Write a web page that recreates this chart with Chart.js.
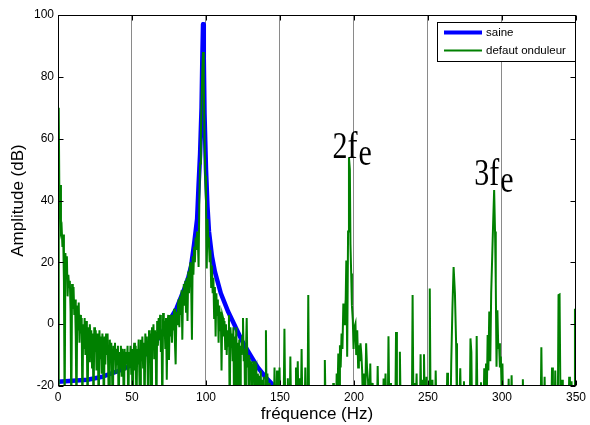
<!DOCTYPE html>
<html>
<head>
<meta charset="utf-8">
<script src="https://cdn.jsdelivr.net/npm/chart.js"></script>
<style>
  html, body { margin: 0; padding: 0; background: #fff; }
  canvas { display: block; }
</style>
</head>
<body>
<canvas id="spectrum" width="590" height="425"></canvas>
<script>
const xTicks = [0, 50, 100, 150, 200, 250, 300, 350];
const yTicks = [-20, 0, 20, 40, 60, 80, 100];
const seriesNames = ['saine', 'defaut onduleur'];

// healthy machine: single resonance around the supply frequency
const saineHz = [0, 10, 20, 30, 40, 50, 60, 65, 70, 75, 80, 85, 88, 90, 92, 94, 95, 96, 97, 97.5,
  98, 98.5, 99, 100, 101, 102, 104, 106, 110, 115, 120, 125, 130, 135, 140, 146, 150];
const saineDb = [-18.6, -18.3, -18, -17, -15.3, -13.2, -9.5, -6.5, -3, 1, 5, 11, 15, 19, 26, 34, 45, 55, 70, 85,
  97, 86, 68, 50, 38, 30, 22, 17, 10, 4, -1, -6, -10, -14, -17, -20, -22];

// inverter fault spectrum, 0-145 Hz (-30 = below the axis)
const denseHz = [
  0, 0.5, 1, 1.5, 2, 2.5, 3, 3.5, 4, 4.5,
  5, 5.5, 6, 6.5, 7, 7.5, 8, 8.5, 9, 9.5,
  10, 10.5, 11, 11.5, 12, 12.5, 13, 13.5, 14, 14.5,
  15, 15.5, 16, 16.5, 17, 17.5, 18, 18.5, 19, 19.5,
  20, 20.5, 21, 21.5, 22, 22.5, 23, 23.5, 24, 24.5,
  25, 25.5, 26, 26.5, 27, 27.5, 28, 28.5, 29, 29.5,
  30, 30.5, 31, 31.5, 32, 32.5, 33, 33.5, 34, 34.5,
  35, 35.5, 36, 36.5, 37, 37.5, 38, 38.5, 39, 39.5,
  40, 40.5, 41, 41.5, 42, 42.5, 43, 43.5, 44, 44.5,
  45, 45.5, 46, 46.5, 47, 47.5, 48, 48.5, 49, 49.5,
  50, 50.5, 51, 51.5, 52, 52.5, 53, 53.5, 54, 54.5,
  55, 55.5, 56, 56.5, 57, 57.5, 58, 58.5, 59, 59.5,
  60, 60.5, 61, 61.5, 62, 62.5, 63, 63.5, 64, 64.5,
  65, 65.5, 66, 66.5, 67, 67.5, 68, 68.5, 69, 69.5,
  70, 70.5, 71, 71.5, 72, 72.5, 73, 73.5, 74, 74.5,
  75, 75.5, 76, 76.5, 77, 77.5, 78, 78.5, 79, 79.5,
  80, 80.5, 81, 81.5, 82, 82.5, 83, 83.5, 84, 84.5,
  85, 85.5, 86, 86.5, 87, 87.5, 88, 88.5, 89, 89.5,
  90, 90.5, 91, 91.5, 92, 92.5, 93, 93.5, 94, 94.5,
  95, 95.5, 96, 96.5, 97, 97.5, 98, 98.5, 99, 99.5,
  100, 100.5, 101, 101.5, 102, 102.5, 103, 103.5, 104, 104.5,
  105, 105.5, 106, 106.5, 107, 107.5, 108, 108.5, 109, 109.5,
  110, 110.5, 111, 111.5, 112, 112.5, 113, 113.5, 114, 114.5,
  115, 115.5, 116, 116.5, 117, 117.5, 118, 118.5, 119, 119.5,
  120, 120.5, 121, 121.5, 122, 122.5, 123, 123.5, 124, 124.5,
  125, 125.5, 126, 126.5, 127, 127.5, 128, 128.5, 129, 129.5,
  130, 130.5, 131, 131.5, 132, 132.5, 133, 133.5, 134, 134.5,
  135, 135.5, 136, 136.5, 137, 137.5, 138, 138.5, 139, 139.5,
  140, 140.5, 141, 141.5, 142, 142.5, 143, 143.5, 144, 144.5
];
const denseDb = [
  -30, 70, 36, 45, 30, 31, 25, 29, 14, -30,
  23, 17, 22, 9, 16, 12, 14, 4, -30, 13,
  5, 12, 3, 8, -4, -30, 6, -2, 7, -6,
  3, -3, 2, -30, 0, -8, 2, -10, 1, -5,
  -30, -1, -12, 0, -6, -2, -14, -3, -30, -1,
  -9, -2, -15, -3, -8, -30, -2, -11, -4, -16,
  -3, -9, -30, -4, -13, -3, -10, -3, -17, -30,
  -5, -12, -6, -15, -30, -7, -11, -6, -16, -8,
  -13, -7, -30, -9, -14, -7, -17, -8, -12, -30,
  -8, -15, -9, -13, -7, -30, -9, -14, -7, -16,
  -8, -30, -10, -6, -15, -7, -30, -8, -13, -5,
  -17, -30, -5, -12, -4, -14, -6, -30, -3, -10,
  -4, -13, -30, -2, -9, -3, -30, -1, -8, 0,
  -11, -2, -6, -30, 1, -7, 2, -5, 3, -9,
  -2, -30, 3.6, -4, 1, -8, 2, -18, 0, 3,
  -11.6, 2, -4, 3, -6, 3, -2, 5, -6, -13,
  4, 0, 6, 8, -1, 9, 3, 11, -5, 10,
  13, 6, 14, 4, 15, 1, 17, 10, 18, 20,
  12, -5, 22, 16, 25, 20, 28, 24, 30, 27,
  18.5, 40, 52, 60, 72, 82, 88, 78, 62, 48,
  40, 18, 34, 28, 26, 20, 24, 12, 19, 10,
  15, 2, 12, -4, 10, 3, 8, -6, 6, -2,
  4, -15, 3, 2, -4, 1, -8, 0, -10, -2,
  -7, 3, -30, -1, -6, -3, -12, -1, -30, -4,
  -9, -1, -30, -6, -12, -5, -30, -7, -10, -4,
  2, -12, -8, -30, -9, 2, -14, -10, -30, -11,
  -15, -12, -30, -13, -18, -12, -30, -15, -14, -30,
  -16, -19, -30, -17, -15, -30, -18, -30, -17, -30,
  -30, -2, -30, -16, -30, -30, -19, -30, -30, -30
];

// inverter fault spectrum, 145-350 Hz: isolated lines and the 2fe / 3fe groups
const sparseHz = [
  145, 145.8, 146.3, 146.8, 147.5, 148, 148.6, 149.2, 149.7, 150.3,
  152.4, 153, 153.6, 154.8, 155.3, 155.8, 156.5, 157, 157.6, 160.3,
  160.8, 161.3, 162, 162.6, 163.3, 164, 164.6, 165.2, 166.6, 167.1,
  167.6, 168.6, 169.1, 169.7, 179.8, 180.3, 180.9, 185.5, 186, 186.4,
  187.8, 188.3, 188.8, 189.4, 189.9, 190.5, 191, 191.6, 192.2, 192.8,
  193.4, 193.9, 194.4, 194.8, 195.4, 196, 196.6, 197.2, 197.6, 198.1,
  198.6, 199.2, 199.7, 200.3, 201, 201.5, 202.2, 202.8, 203.3, 203.9,
  204.4, 205, 205.5, 206.2, 206.8, 207.4, 208.2, 208.8, 209.5, 210.2,
  211, 211.6, 212.6, 213.2, 215.5, 216, 216.6, 219.5, 220, 220.6,
  221.3, 221.9, 222.8, 223.3, 223.9, 224.4, 225, 227.9, 228.4, 229,
  230.5, 231, 231.6, 239.1, 239.6, 240.2, 241, 241.5, 242.3, 242.8,
  244.5, 245, 245.6, 246.3, 246.8, 247.3, 247.9, 249, 249.6, 250.7,
  251.2, 251.8, 253, 253.5, 254.7, 255.2, 255.8, 262.5, 263, 263.5,
  265.2, 265.7, 266.5, 267.3, 268.2, 269, 269.6, 270.5, 271, 271.8,
  272.4, 273.8, 274.3, 274.9, 278.2, 278.7, 279.3, 279.8, 282.4, 282.9,
  283.5, 285.3, 285.8, 286.4, 287.5, 288, 288.6, 289.2, 289.7, 290.3,
  290.8, 291.4, 292.1, 292.7, 293.4, 294.1, 294.7, 295.3, 295.8, 296.3,
  296.9, 297.5, 298, 298.6, 299.2, 299.7, 300.3, 300.9, 304, 304.5,
  305, 306, 306.5, 307, 313.6, 314.1, 314.6, 326.1, 326.6, 327.2,
  328.3, 328.8, 329.3, 333.3, 333.8, 334.4, 335.5, 336, 336.5, 337.7,
  338.2, 338.9, 339.6, 340.1, 340.6, 341.1, 344.9, 345.4, 345.9, 346.5,
  347, 347.5, 348.9, 349.3, 350
];
const sparseDb = [
  -30, -30, -14, -30, -30, -15, -30, -30, -14, -30,
  -30, -1.5, -30, -30, -17.5, -30, -30, -10.5, -30, -30,
  -14, -30, -12, -30, -17.5, -30, -8, -30, -30, -14,
  -30, -30, 9.4, -30, -30, -11.6, -30, -30, -19, -30,
  -30, -16, -25, -9.5, -22, -6.8, -14, -3, -8, 6.7,
  0, 4.5, 8, 20.6, -10.5, 30, 54, 50, 26, 16.4,
  6, 1.3, -8, -1, 0.2, -10, -2, -14, -6.8, -12,
  -6.2, -10, -15, -30, -16, -30, -6.2, -14, -18.5, -30,
  -12.7, -30, -19, -30, -30, -13.5, -30, -30, -17.6, -30,
  -16, -30, -30, -3.9, -30, -19, -30, -30, -2.5, -30,
  -30, -8.9, -30, -30, 9.4, -30, -19, -30, -16, -30,
  -30, -9.7, -30, -18, -30, -9.7, -30, -17, -30, -30,
  11.5, -30, -18, -30, -30, -15, -30, -30, -15.7, -30,
  -30, -12.7, 5, 18.5, 10, -6.2, -30, -20, -30, -14.3,
  -30, -30, -18.5, -30, -30, -4.6, -9, -30, -30, -3.8,
  -30, -30, -18.8, -30, -30, -14.3, -30, -12.7, -25, -3.5,
  -15, 4.1, -12, 10, 22, 34, 43.4, 30, 13.1, -13.8,
  4.5, -8, -6.2, -14, -10.5, -20, -12.7, -30, -30, -17.7,
  -30, -30, -16.5, -30, -30, -17.8, -30, -30, -7.5, -30,
  -30, -17, -30, -30, -14, -30, -30, -15, -30, -30,
  9.4, 9.6, -30, -30, -18, -30, -30, -17, -30, -30,
  -18.5, -30, -30, 4.7, 4.7
];

// harmonic annotations, anchored in data units (left edge / baseline)
const noteText = ['2f', '3f'];
const noteHz = [185.4, 281.2];
const noteDb = [53.7, 45];

const toPoints = (xs, ys) => xs.map((v, i) => ({ x: v, y: ys[i] }));

const sans = "'Liberation Sans', Arial, sans-serif";
Chart.defaults.font.family = sans;
Chart.defaults.color = '#000';

const decor = {
  id: 'decor',
  afterDatasetsDraw(chart) {
    const { ctx, chartArea: a, scales: { x, y } } = chart;
    const L = Math.round(a.left) + 0.5, R = Math.round(a.right) - 0.5;
    const T = Math.round(a.top) + 0.5, B = Math.round(a.bottom) - 0.5;
    ctx.save();
    ctx.strokeStyle = '#000';
    ctx.lineWidth = 1;
    ctx.strokeRect(L, T, R - L, B - T);
    ctx.beginPath();
    xTicks.forEach(v => {
      const px = Math.round(x.getPixelForValue(v)) + 0.5;
      ctx.moveTo(px, B); ctx.lineTo(px, B - 5);
      ctx.moveTo(px, T); ctx.lineTo(px, T + 5);
    });
    yTicks.forEach(v => {
      const py = Math.round(y.getPixelForValue(v)) + 0.5;
      ctx.moveTo(L, py); ctx.lineTo(L + 5, py);
      ctx.moveTo(R, py); ctx.lineTo(R - 5, py);
    });
    ctx.stroke();

    // harmonic labels
    ctx.fillStyle = '#000';
    ctx.font = "30px 'Liberation Serif', 'Times New Roman', serif";
    ctx.textBaseline = 'alphabetic';
    noteText.forEach((t, i) => {
      ctx.save();
      ctx.translate(x.getPixelForValue(noteHz[i]), y.getPixelForValue(noteDb[i]));
      ctx.scale(1, 1.28);
      ctx.fillText(t, 0, 0);
      const w = ctx.measureText(t).width;
      ctx.fillText('e', w + 1, 5.5);
      ctx.restore();
    });

    // legend box
    ctx.fillStyle = '#fff';
    ctx.fillRect(437.5, 22.5, 138, 39);
    ctx.strokeRect(437.5, 22.5, 138, 39);
    ctx.font = '11.5px ' + sans;
    ctx.textBaseline = 'middle';
    chart.data.datasets.forEach((ds, i) => {
      const ly = i === 0 ? 32.5 : 50.5;
      ctx.strokeStyle = ds.borderColor;
      ctx.lineWidth = i === 0 ? 4 : 2;
      ctx.beginPath();
      ctx.moveTo(444, ly); ctx.lineTo(482, ly);
      ctx.stroke();
      ctx.fillStyle = '#000';
      ctx.fillText(ds.label, 486, ly);
    });
    ctx.restore();
  }
};

new Chart(document.getElementById('spectrum'), {
  type: 'line',
  data: {
    datasets: [
      {
        label: seriesNames[0],
        data: toPoints(saineHz, saineDb),
        borderColor: '#0000ff',
        borderWidth: 4.5,
        borderCapStyle: 'round',
        borderJoinStyle: 'round',
        pointRadius: 0,
        order: 2
      },
      {
        label: seriesNames[1],
        data: toPoints(denseHz.concat(sparseHz), denseDb.concat(sparseDb)),
        borderColor: '#008000',
        borderWidth: 2,
        borderJoinStyle: 'miter',
        pointRadius: 0,
        order: 1
      }
    ]
  },
  options: {
    responsive: false,
    animation: false,
    devicePixelRatio: 1,
    layout: { padding: { left: 0, right: 9, top: 15, bottom: 0 } },
    plugins: { legend: { display: false }, tooltip: { enabled: false } },
    scales: {
      x: {
        type: 'linear',
        min: 0, max: 350,
        ticks: { stepSize: 50, padding: 4, maxRotation: 0, font: { size: 12 }, color: '#000' },
        grid: {
          color: c => (c.tick && c.tick.value > 0 && c.tick.value < 350) ? '#8a8a8a' : 'rgba(0,0,0,0)',
          drawTicks: false,
          lineWidth: 1
        },
        border: { display: false },
        title: { display: true, text: 'fréquence (Hz)', font: { size: 17 }, color: '#000', padding: { top: 0, bottom: 0 } },
        afterFit: s => { s.height = 39; }
      },
      y: {
        min: -20, max: 100,
        ticks: { stepSize: 20, padding: 4, font: { size: 12 }, color: '#000' },
        grid: { display: false, drawTicks: false },
        border: { display: false },
        title: { display: true, text: 'Amplitude (dB)', font: { size: 17 }, color: '#000', padding: { top: 8, bottom: 0 } },
        afterFit: s => { s.width = 58; }
      }
    }
  },
  plugins: [decor]
});
</script>
</body>
</html>
